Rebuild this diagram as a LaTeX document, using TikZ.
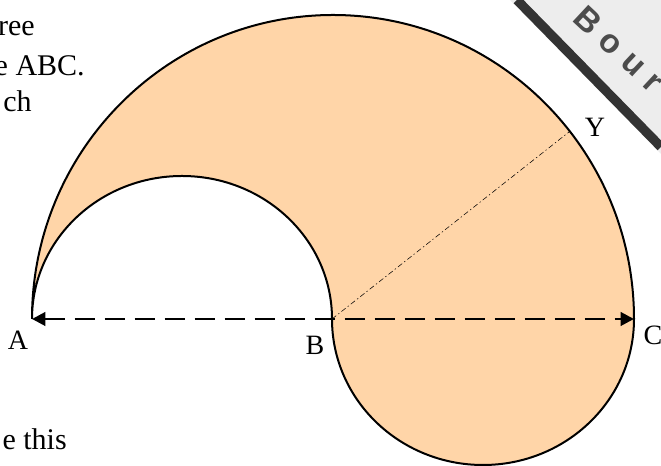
\documentclass[tikz,border=0pt]{standalone}
\usepackage{fontspec}
\setmainfont{Liberation Serif}
\setsansfont{Liberation Sans}
\usetikzlibrary{arrows.meta}
\definecolor{peach}{RGB}{255,213,168}

\begin{document}
\begin{tikzpicture}[
  x=0.75pt, y=0.75pt,
  every node/.style={inner sep=0pt},
  lbl/.style={font=\fontsize{21}{25}\selectfont},
  prose/.style={font=\fontsize{22.5}{27}\selectfont, anchor=base east},
  outline/.style={draw, line width=1.5pt, fill=peach},
  span/.style={line width=2.2pt, dash pattern=on 15pt off 7.5pt,
    {Triangle[length=10pt,width=10pt]}-{Triangle[length=10pt,width=10pt]}},
  radius line/.style={line width=0.4pt, dash pattern=on 4pt off 2pt on 1pt off 2pt},
  stamp text/.style={font=\sffamily\bfseries\fontsize{25}{29}\selectfont\addfontfeature{LetterSpace=30},
    text=black!70, rotate=-43}
]
\useasboundingbox (0,0) rectangle (661,466);

% points on the diameter
\coordinate (A) at (32,147);
\coordinate (B) at (332,147);
\coordinate (C) at (634,147);
\path (B) ++(38:301 and 304) coordinate (Y);

% shaded region
\path[outline] (A)
  arc[start angle=180, end angle=0, x radius=301, y radius=304]
  arc[start angle=0, end angle=-180, x radius=151, y radius=146]
  arc[start angle=0, end angle=180, x radius=150, y radius=143]
  -- cycle;

\draw[radius line] (B) -- (Y);
\draw[span] (A) -- (C);

% labels
\node[lbl] (labA) at (18,126) {A};
\node[lbl] (labB) at (315,121) {B};
\node[lbl] (labC) at (653,131) {C};
\node[lbl] (labY) at (595,339) {Y};

% cut-off text of the page
\node[prose] (t1) at (35,430) {ree};
\node[prose] (t2) at (85,390) {e ABC.};
\node[prose] (t3) at (32,354) {ch};
\node[prose] (t4) at (67,16) {e this};

% stamp in the corner
\begin{scope}
  \clip (0,0) rectangle (661,466);
  \fill[black!7] (510,466) -- (661,312) -- (661,466) -- cycle;
  \draw[line width=7pt, black!80] (517,466) -- (661,319);
  \node[stamp text] (stamp) at (619,417) {Bour};
\end{scope}
\end{tikzpicture}
\end{document}
